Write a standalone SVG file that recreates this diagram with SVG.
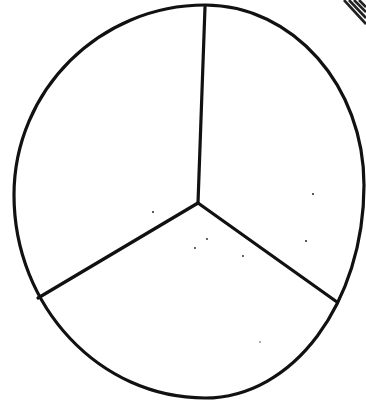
<svg xmlns="http://www.w3.org/2000/svg" width="366" height="404" viewBox="0 0 366 404">
<style>
.ln{fill:none;stroke:#111;stroke-width:3.2;stroke-linecap:round;stroke-linejoin:round}
.dot{fill:#222}
</style>
<rect width="366" height="404" fill="#fff"/>
<g id="outline">
<path class="ln" d="M205 5 C293 5 364 86 364 185 C364 303 293 398 205 398 C100 398 14 307 14 195 C14 90 100 5 205 5 Z"/>
</g>
<g id="spokes">
<line class="ln" x1="198" y1="203" x2="205" y2="7"/>
<line class="ln" x1="198" y1="203" x2="38" y2="298"/>
<line class="ln" x1="198" y1="203" x2="337" y2="302"/>
</g>
<g id="corner">
<path d="M344 0 L366 24 M349 0 L366 18 M354 0 L366 12 M359 0 L366 7" stroke="#222" stroke-width="2.6" fill="none"/>
</g>
<g id="specks">
<circle class="dot" cx="153" cy="212" r="1"/>
<circle class="dot" cx="313" cy="194" r="1"/>
<circle class="dot" cx="306" cy="241" r="1"/>
<circle class="dot" cx="207" cy="239" r="0.9"/>
<circle class="dot" cx="195" cy="248" r="0.9"/>
<circle class="dot" cx="243" cy="256" r="0.9"/>
<circle class="dot" cx="260" cy="342" r="0.7"/>
</g>
</svg>
